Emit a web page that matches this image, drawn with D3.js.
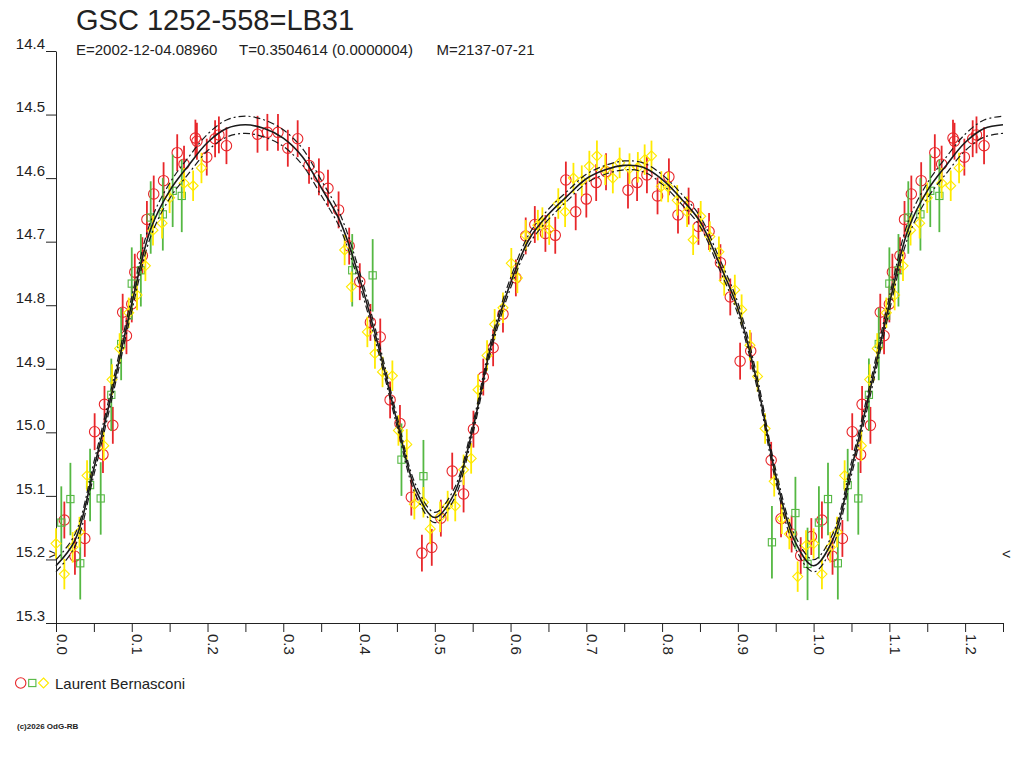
<!DOCTYPE html>
<html><head><meta charset="utf-8">
<script src="https://cdn.jsdelivr.net/npm/d3@7"></script>
<style>
html,body{margin:0;padding:0;background:#fff;}
svg{display:block;}
text{font-family:"Liberation Sans",Arial,sans-serif;fill:#222;}
</style>
</head><body>
<svg id="chart" width="1024" height="768"></svg>
<script>
// ---------- texts ----------
const titleText = "GSC 1252-558=LB31";
const subtitleParts = ["E=2002-12-04.08960", "T=0.3504614 (0.0000004)", "M=2137-07-21"];
const observerName = "Laurent Bernasconi";
const creditText = "(c)2026 OdG-RB";

// ---------- axes ----------
const yTickValues = [14.4, 14.5, 14.6, 14.7, 14.8, 14.9, 15.0, 15.1, 15.2, 15.3];
const yTickLabels = ["14.4","14.5","14.6","14.7","14.8","14.9","15.0","15.1","15.2","15.3"];
const xTickValues = [0,0.05,0.1,0.15,0.2,0.25,0.3,0.35,0.4,0.45,0.5,0.55,0.6,0.65,0.7,0.75,0.8,0.85,0.9,0.95,1.0,1.05,1.1,1.15,1.2,1.25];
const xTickLabels = ["0.0","","0.1","","0.2","","0.3","","0.4","","0.5","","0.6","","0.7","","0.8","","0.9","","1.0","","1.1","","1.2",""];
const phaseDomain = [0, 1.25];
const magDomain = [14.4, 15.3];
const minMarkMag = 15.19;

// ---------- observations [phase, mag] ----------
const redPts = [
[0.011,15.138],[0.025,15.195],[0.038,15.167],[0.051,14.999],[0.062,15.035],[0.064,14.956],[0.075,14.989],[0.088,14.811],[0.093,14.848],[0.100,14.798],
[0.104,14.748],[0.114,14.722],[0.120,14.665],[0.129,14.625],[0.142,14.604],[0.160,14.560],[0.169,14.578],[0.184,14.537],[0.186,14.542],[0.199,14.567],
[0.210,14.538],[0.215,14.532],[0.225,14.549],[0.266,14.531],[0.279,14.528],[0.293,14.528],[0.306,14.553],[0.319,14.538],[0.334,14.580],[0.347,14.598],
[0.359,14.616],[0.373,14.650],[0.387,14.707],[0.401,14.763],[0.415,14.827],[0.428,14.850],[0.441,14.949],[0.454,14.986],[0.469,15.102],[0.483,15.190],
[0.496,15.181],[0.508,15.135],[0.523,15.061],[0.538,15.097],[0.551,14.995],[0.564,14.913],[0.577,14.867],[0.590,14.814],[0.607,14.757],[0.620,14.691],
[0.632,14.673],[0.646,14.687],[0.659,14.690],[0.673,14.603],[0.686,14.653],[0.700,14.633],[0.713,14.607],[0.726,14.590],[0.755,14.619],[0.767,14.607],
[0.780,14.595],[0.794,14.628],[0.809,14.598],[0.821,14.658],[0.835,14.644],[0.848,14.676],[0.862,14.684],[0.877,14.733],[0.890,14.787],[0.903,14.888],
[0.917,14.872],[0.944,15.044],[0.957,15.136],[0.971,15.160],[0.983,15.194],[0.997,15.164]
];
const greenPts = [
[0.007,15.142],[0.019,15.105],[0.032,15.206],[0.045,15.083],[0.059,15.104],[0.073,14.941],[0.086,14.861],[0.100,14.766],[0.112,14.745],[0.125,14.662],
[0.141,14.657],[0.154,14.620],[0.166,14.628],[0.391,14.745],[0.418,14.753],[0.456,15.043],[0.485,15.069],[0.945,15.173],[0.976,15.127],[0.992,15.207]
];
const yellowPts = [
[0.000,15.175],[0.011,15.223],[0.022,15.181],[0.031,15.157],[0.041,15.068],[0.063,15.021],[0.074,14.917],[0.084,14.868],[0.096,14.812],[0.107,14.784],
[0.118,14.738],[0.128,14.682],[0.140,14.671],[0.150,14.631],[0.169,14.608],[0.181,14.612],[0.192,14.584],[0.381,14.713],[0.390,14.771],[0.411,14.842],
[0.421,14.876],[0.431,14.905],[0.444,14.911],[0.452,14.997],[0.463,15.019],[0.473,15.113],[0.485,15.110],[0.494,15.152],[0.507,15.133],[0.517,15.116],
[0.527,15.116],[0.538,15.059],[0.548,15.041],[0.557,14.933],[0.569,14.879],[0.579,14.830],[0.590,14.804],[0.601,14.734],[0.609,14.757],[0.620,14.690],
[0.636,14.674],[0.642,14.670],[0.651,14.681],[0.663,14.640],[0.672,14.653],[0.683,14.600],[0.694,14.604],[0.704,14.581],[0.714,14.565],[0.725,14.587],
[0.735,14.600],[0.744,14.576],[0.757,14.585],[0.768,14.583],[0.777,14.571],[0.786,14.565],[0.799,14.613],[0.808,14.614],[0.820,14.635],[0.833,14.653],
[0.841,14.697],[0.851,14.660],[0.863,14.692],[0.875,14.716],[0.882,14.761],[0.896,14.776],[0.905,14.807],[0.916,14.863],[0.926,14.912],[0.936,14.994],
[0.948,15.077],[0.958,15.136],[0.968,15.160],[0.979,15.227],[0.990,15.178]
];
const redErr = 0.029, greenErr = 0.057, yellowErr = 0.024;

// ---------- fitted light curve ----------
const curvePhase = [0,0.025,0.05,0.075,0.1,0.125,0.15,0.175,0.2,0.225,0.25,0.275,0.3,0.325,0.35,0.375,0.4,0.425,0.45,0.475,0.5,
  0.525,0.55,0.575,0.6,0.625,0.65,0.675,0.7,0.725,0.75,0.775,0.8,0.825,0.85,0.875,0.9,0.925,0.95,0.975,1.0];
const curveMag = [15.210,15.170,15.057,14.931,14.798,14.680,14.620,14.580,14.544,14.522,14.516,14.522,14.537,14.566,14.615,14.668,14.755,14.862,14.982,15.091,15.134,
  15.098,14.995,14.860,14.765,14.695,14.657,14.628,14.601,14.587,14.580,14.583,14.602,14.632,14.668,14.733,14.805,14.919,15.068,15.171,15.210];
const curveBand = [0.0095,0.0095,0.010,0.010,0.011,0.012,0.012,0.013,0.013,0.0135,0.0135,0.0135,0.013,0.013,0.012,0.011,0.010,0.009,0.008,0.008,0.008,
  0.008,0.008,0.008,0.008,0.008,0.008,0.0075,0.007,0.007,0.007,0.007,0.0075,0.008,0.008,0.0085,0.009,0.009,0.009,0.0095,0.0095];

// ---------- drawing ----------
const svg = d3.select("#chart");
const x = d3.scaleLinear().domain(phaseDomain).range([56, 1003]);
const y = d3.scaleLinear().domain(magDomain).range([51, 623]);

// folded phases: points with phase <= 0.25 are repeated one cycle later
function fold(pts) {
  const out = pts.map(p => [p[0], p[1]]);
  pts.forEach(p => { if (p[0] + 1 <= phaseDomain[1]) out.push([p[0] + 1, p[1]]); });
  return out;
}

// title
svg.append("text").attr("x", 76).attr("y", 29.5).attr("font-size", 29).attr("fill", "#222").text(titleText);
const subX = [76, 239, 436.5];
subtitleParts.forEach((s, i) => {
  svg.append("text").attr("x", subX[i]).attr("y", 54.5).attr("font-size", 15).text(s);
});

// axes
const yAxis = d3.axisLeft(y).tickValues(yTickValues).tickSize(10).tickSizeOuter(0)
  .tickFormat((d, i) => yTickLabels[i]);
const gy = svg.append("g").attr("transform", `translate(${x(0)},0)`).call(yAxis);
gy.selectAll("text").attr("font-size", 15).attr("x", -11).attr("dy", "-0.18em")
  .style("font-family", '"Liberation Sans",Arial,sans-serif').attr("fill", "#222");
gy.selectAll("line, path").attr("stroke", "#222");
gy.attr("font-family", null);

const xAxis = d3.axisBottom(x).tickValues(xTickValues).tickSize(9).tickSizeOuter(0)
  .tickFormat((d, i) => xTickLabels[i]);
const gx = svg.append("g").attr("transform", `translate(0,${y(magDomain[1])})`).call(xAxis);
gx.selectAll("text").attr("font-size", 15).attr("transform", "rotate(90)")
  .attr("x", 11).attr("y", 0).attr("dy", 0).style("text-anchor", "start")
  .style("font-family", '"Liberation Sans",Arial,sans-serif').attr("fill", "#222");
gx.selectAll("line, path").attr("stroke", "#222");

// min marks
svg.append("text").attr("x", 48.5).attr("y", y(minMarkMag) + 6).attr("font-size", 15).text(">");
svg.append("text").attr("x", 1002).attr("y", y(minMarkMag) + 6).attr("font-size", 15).text("<");

// series
const series = [
  {pts: redPts, err: redErr, color: "#e8262a", shape: "circle"},
  {pts: greenPts, err: greenErr, color: "#55b843", shape: "square"},
  {pts: yellowPts, err: yellowErr, color: "#ffea00", shape: "diamond"}
];

function drawMarker(g, shape, cx, cy, color) {
  if (shape === "circle") {
    g.append("circle").attr("cx", cx).attr("cy", cy).attr("r", 5.2)
      .attr("fill", "none").attr("stroke", color).attr("stroke-width", 1.1);
  } else if (shape === "square") {
    g.append("rect").attr("x", cx - 3.6).attr("y", cy - 3.6).attr("width", 7.2).attr("height", 7.2)
      .attr("fill", "none").attr("stroke", color).attr("stroke-width", 1.1);
  } else {
    g.append("path").attr("d", `M${cx},${cy - 5}L${cx + 5},${cy}L${cx},${cy + 5}L${cx - 5},${cy}Z`)
      .attr("fill", "none").attr("stroke", color).attr("stroke-width", 1.1);
  }
}

const gData = svg.append("g");
series.forEach(s => {
  const pts = fold(s.pts);
  gData.selectAll(null).data(pts).enter().append("line")
    .attr("x1", d => x(d[0])).attr("x2", d => x(d[0]))
    .attr("y1", d => y(d[1] - s.err)).attr("y2", d => y(d[1] + s.err))
    .attr("stroke", s.color).attr("stroke-width", 1.8);
  pts.forEach(d => drawMarker(gData, s.shape, x(d[0]), y(d[1]), s.color));
});

// curves
const knots = curvePhase.map((p, i) => ({p, m: curveMag[i], b: curveBand[i]}));
curvePhase.forEach((p, i) => {
  if (p > 0 && p + 1 <= phaseDomain[1]) knots.push({p: p + 1, m: curveMag[i], b: curveBand[i]});
});
const lineGen = f => d3.line().x(d => x(d.p)).y(d => y(f(d))).curve(d3.curveCatmullRom.alpha(0.5));
const gCurve = svg.append("g").attr("fill", "none");
gCurve.append("path").attr("d", lineGen(d => d.m - d.b)(knots))
  .attr("stroke", "#1a1a1a").attr("stroke-width", 1.2).attr("stroke-dasharray", "7,3,2,3");
gCurve.append("path").attr("d", lineGen(d => d.m + d.b)(knots))
  .attr("stroke", "#1a1a1a").attr("stroke-width", 1.2).attr("stroke-dasharray", "7,3,2,3");
gCurve.append("path").attr("d", lineGen(d => d.m)(knots))
  .attr("stroke", "#1a1a1a").attr("stroke-width", 1.6);

// legend
const legY = 683;
drawMarker(svg, "circle", 20.7, legY, series[0].color);
drawMarker(svg, "square", 32.3, legY, series[1].color);
drawMarker(svg, "diamond", 43.5, legY, series[2].color);
svg.append("text").attr("x", 55).attr("y", 688.5).attr("font-size", 15).text(observerName);

// credit
svg.append("text").attr("x", 17).attr("y", 728.5).attr("font-size", 8).attr("font-weight", "bold").text(creditText);
</script>
</body></html>
